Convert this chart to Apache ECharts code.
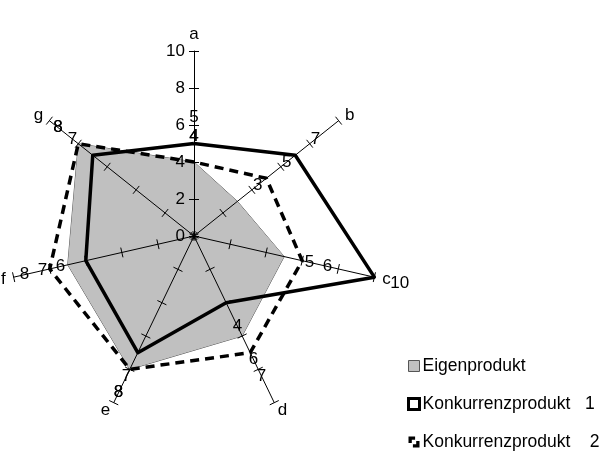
<!DOCTYPE html>
<html>
<head>
<meta charset="utf-8">
<script src="https://cdn.jsdelivr.net/npm/echarts@6/dist/echarts.min.js"></script>
<style>
html, body { margin: 0; padding: 0; background: #fff; }
#container { width: 604px; height: 455px; }
</style>
</head>
<body>
<div id="container"></div>
<script>
var axes = ['a', 'b', 'c', 'd', 'e', 'f', 'g'];
var eigen = [4, 3, 5, 6, 8, 7, 8];
var konk1 = [5, 7, 10, 4, 7, 6, 7];
var konk2 = [4, 5, 6, 7, 8, 8, 8];
var axisMin = 0;
var axisMax = 10;
var seriesNames = ['Eigenprodukt', 'Konkurrenzprodukt   1', 'Konkurrenzprodukt    2'];

// echarts lays the radar out counter-clockwise, the original runs clockwise
var order = [0, 6, 5, 4, 3, 2, 1];
function reorder(arr) {
    return order.map(function (i) { return arr[i]; });
}

var center = [194, 236];
var radius = 185;
var font = 'Liberation Sans, Arial, sans-serif';
var labelGap = 26;

function indicators(withLabel) {
    return reorder(axes).map(function (name) {
        return {name: name, min: axisMin, max: axisMax, axisLabel: {show: withLabel && name === 'a'}};
    });
}

// push each value label outward along its own axis
function outwardLabel(params) {
    var r = params.rect;
    var px = r.x + r.width / 2;
    var py = r.y + r.height / 2;
    var dx = px - center[0];
    var dy = py - center[1];
    var len = Math.sqrt(dx * dx + dy * dy) || 1;
    return {
        x: px + dx / len * labelGap,
        y: py + dy / len * labelGap,
        align: 'center',
        verticalAlign: 'middle'
    };
}

var valueLabel = {show: true, position: 'inside', color: '#000', fontFamily: font, fontSize: 17};

var dom = document.getElementById('container');
var myChart = echarts.init(dom);
var option = {
    animation: false,
    backgroundColor: '#fff',
    legend: {
        orient: 'vertical',
        left: 407,
        top: 357,
        padding: 0,
        itemGap: 20,
        itemWidth: 11,
        itemHeight: 11,
        itemStyle: {borderWidth: 0},
        textStyle: {fontFamily: font, fontSize: 17.5, color: '#000', padding: [0, 0, 0, -2]},
        data: [
            {name: seriesNames[0], icon: 'rect', itemStyle: {color: '#c0c0c0', borderColor: '#555', borderWidth: 1}},
            {name: seriesNames[1], icon: 'rect', itemStyle: {color: '#fff', borderColor: '#000', borderWidth: 3}},
            {name: seriesNames[2], icon: 'path://M0,0L6,0L6,3L3,3L3,6L0,6ZM10,4L10,10L4,10L4,7L7,7L7,4Z', itemStyle: {color: '#000'}}
        ]
    },
    radar: [
        {
            z: 2,
            center: center,
            radius: radius,
            startAngle: 90,
            splitNumber: 5,
            shape: 'polygon',
            indicator: indicators(true),
            nameGap: 8,
            axisName: {color: '#000', fontFamily: font, fontSize: 17},
            axisLine: {show: true, lineStyle: {color: '#000', width: 1, opacity: 1}},
            axisTick: {show: true, length: 5, lineStyle: {color: '#000', width: 1}},
            axisLabel: {show: false, color: '#000', fontFamily: font, fontSize: 17, margin: 9},
            splitLine: {show: false},
            splitArea: {show: false}
        },
        {
            z: 2,
            center: center,
            radius: radius,
            startAngle: 90,
            splitNumber: 5,
            shape: 'polygon',
            indicator: indicators(false),
            axisName: {show: false},
            axisLine: {show: false},
            axisTick: {show: true, length: -5, lineStyle: {color: '#000', width: 1}},
            axisLabel: {show: false},
            splitLine: {show: false},
            splitArea: {show: false}
        }
    ],
    series: [
        {
            name: seriesNames[0],
            type: 'radar',
            radarIndex: 0,
            z: 1,
            symbol: 'circle',
            symbolSize: 1,
            itemStyle: {color: '#c0c0c0'},
            lineStyle: {color: '#555', width: 1},
            areaStyle: {color: '#c0c0c0', opacity: 1},
            label: valueLabel,
            labelLayout: outwardLabel,
            data: [{name: seriesNames[0], value: reorder(eigen)}]
        },
        {
            name: seriesNames[1],
            type: 'radar',
            radarIndex: 0,
            z: 3,
            symbol: 'circle',
            symbolSize: 1,
            itemStyle: {color: '#000'},
            lineStyle: {color: '#000', width: 3.5},
            label: valueLabel,
            labelLayout: outwardLabel,
            data: [{name: seriesNames[1], value: reorder(konk1)}]
        },
        {
            name: seriesNames[2],
            type: 'radar',
            radarIndex: 0,
            z: 3,
            symbol: 'circle',
            symbolSize: 1,
            itemStyle: {color: '#000'},
            lineStyle: {color: '#000', width: 3.5, type: [9, 6]},
            label: valueLabel,
            labelLayout: outwardLabel,
            data: [{name: seriesNames[2], value: reorder(konk2)}]
        }
    ]
};
myChart.setOption(option);
</script>
</body>
</html>
